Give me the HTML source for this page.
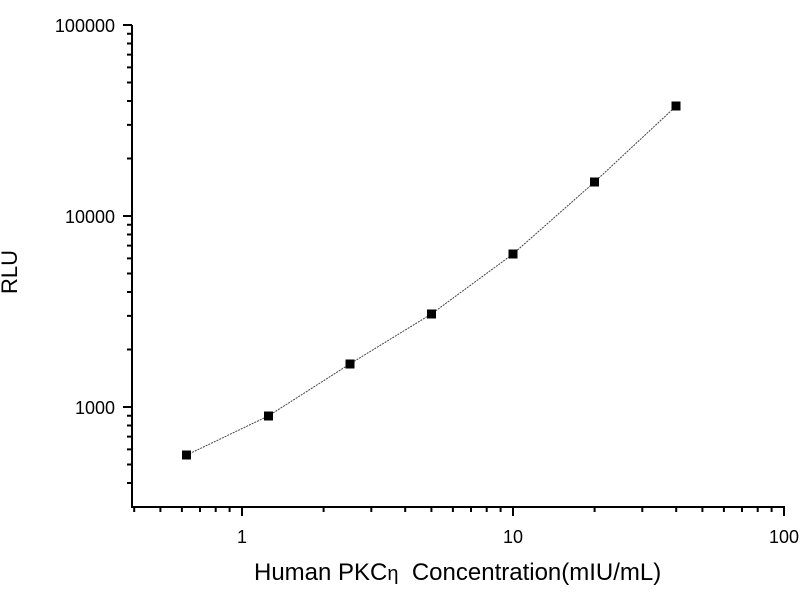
<!DOCTYPE html>
<html><head><meta charset="utf-8"><style>body{margin:0;background:#fff}svg{display:block}</style></head><body>
<svg width="800" height="600" xmlns="http://www.w3.org/2000/svg" font-family="Liberation Sans, Arial, sans-serif">
<rect width="800" height="600" fill="#fff"/>
<g stroke="#000" stroke-width="2" fill="none">
<line x1="132" y1="25" x2="132" y2="508"/>
<line x1="131" y1="507" x2="785" y2="507"/>
<path d="M242 507v9M513 507v9M784 507v9"/>
<path d="M134.2 507v5M160.4 507v5M181.9 507v5M200 507v5M215.7 507v5M229.6 507v5M323.6 507v5M371.3 507v5M405.2 507v5M431.4 507v5M452.9 507v5M471 507v5M486.7 507v5M500.6 507v5M594.6 507v5M642.3 507v5M676.2 507v5M702.4 507v5M723.9 507v5M742 507v5M757.7 507v5M771.6 507v5"/>
<path d="M132 407h-9M132 216h-9M132 25h-9"/>
<path d="M132 483h-5M132 464.5h-5M132 449.4h-5M132 436.6h-5M132 425.5h-5M132 415.8h-5M132 349.5h-5M132 315.9h-5M132 292h-5M132 273.5h-5M132 258.4h-5M132 245.6h-5M132 234.5h-5M132 224.8h-5M132 158.5h-5M132 124.9h-5M132 101h-5M132 82.5h-5M132 67.4h-5M132 54.6h-5M132 43.5h-5M132 33.8h-5"/>
</g>
<polyline points="186.7,455 268.3,416 349.8,364 431.4,314 513,254 594.6,182 676.2,106" fill="none" stroke="#444" stroke-width="1" stroke-dasharray="2,1"/>
<g fill="#000">
<rect x="182" y="450.5" width="9" height="9"/>
<rect x="264" y="411.5" width="9" height="9"/>
<rect x="345.5" y="359.5" width="9" height="9"/>
<rect x="427" y="309.5" width="9" height="9"/>
<rect x="508.5" y="249.5" width="9" height="9"/>
<rect x="590" y="177.5" width="9" height="9"/>
<rect x="671.5" y="101.5" width="9" height="9"/>
</g>
<g font-size="18" fill="#000">
<text x="242" y="543" text-anchor="middle">1</text>
<text x="513" y="543" text-anchor="middle">10</text>
<text x="784" y="543" text-anchor="middle">100</text>
<text x="115" y="414" text-anchor="end">1000</text>
<text x="115" y="223" text-anchor="end">10000</text>
<text x="115" y="32" text-anchor="end">100000</text>
</g>
<text x="254" y="580" font-size="24" xml:space="preserve">Human PKC<tspan font-size="20">η</tspan>  Concentration(mIU/mL)</text>
<text transform="translate(17,272) rotate(-90)" font-size="22" text-anchor="middle">RLU</text>
</svg>
</body></html>
